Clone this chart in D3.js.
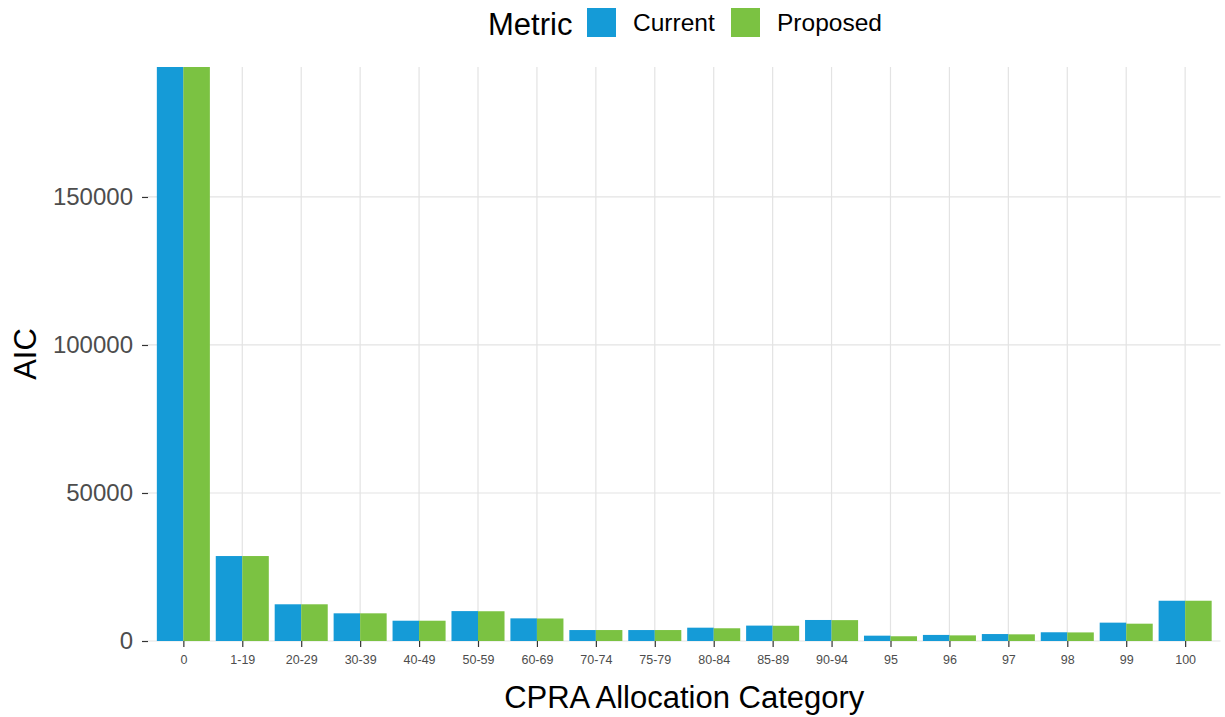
<!DOCTYPE html>
<html>
<head>
<meta charset="utf-8">
<script src="https://cdn.jsdelivr.net/npm/d3@7"></script>
<style>
  html, body { margin: 0; padding: 0; background: #fff; }
  svg { display: block; font-family: "Liberation Sans", Arial, Helvetica, sans-serif; }
</style>
</head>
<body>
<svg id="chart" width="1225" height="717"></svg>
<script>
const categories = ["0","1-19","20-29","30-39","40-49","50-59","60-69","70-74","75-79","80-84","85-89","90-94","95","96","97","98","99","100"];
const seriesNames = ["Current","Proposed"];
const currentValues  = [193900, 28700, 12400, 9350, 6850, 10100, 7650, 3700, 3700, 4500, 5200, 7100, 1800, 2050, 2350, 2950, 6200, 13600];
const proposedValues = [193900, 28700, 12400, 9350, 6850, 10050, 7600, 3700, 3700, 4300, 5150, 7050, 1600, 1900, 2250, 2900, 5850, 13600];
const yTicks = [0, 50000, 100000, 150000];
const colors = ["#159bd7", "#7bc242"];

const svg = d3.select("#chart");
const m = { left: 148, right: 1220.5, top: 67, bottom: 641 };

// emulate ggplot discrete expansion: 0.6 units each side
const step = (m.right - m.left) / (categories.length - 1 + 1.2);
const xc = d3.scalePoint().domain(categories).range([m.left + 0.6 * step, m.right - 0.6 * step]);
const barW = 0.9 * step;
const xs = d3.scaleBand().domain(seriesNames).range([0, barW]);

const yMax = d3.max(currentValues.concat(proposedValues));
const y = d3.scaleLinear().domain([0, yMax]).range([m.bottom, m.top]);

// gridlines
const grid = svg.append("g");
grid.selectAll("line.h").data(yTicks).join("line")
  .attr("x1", m.left).attr("x2", m.right)
  .attr("y1", d => y(d)).attr("y2", d => y(d))
  .attr("stroke", "#e3e3e3").attr("stroke-width", 1.2);
grid.selectAll("line.v").data(categories).join("line")
  .attr("x1", d => xc(d)).attr("x2", d => xc(d))
  .attr("y1", m.top).attr("y2", m.bottom)
  .attr("stroke", "#e3e3e3").attr("stroke-width", 1.2);

// bars
const data = categories.map((c, i) => ({ cat: c, vals: [currentValues[i], proposedValues[i]] }));
const groups = svg.append("g").selectAll("g").data(data).join("g")
  .attr("transform", d => `translate(${xc(d.cat) - barW / 2},0)`);
groups.selectAll("rect").data(d => d.vals.map((v, j) => ({ s: seriesNames[j], v, j }))).join("rect")
  .attr("x", d => xs(d.s)).attr("width", xs.bandwidth())
  .attr("y", d => y(d.v)).attr("height", d => y(0) - y(d.v))
  .attr("fill", d => colors[d.j]);

// y axis
const yAxis = d3.axisLeft(y).tickValues(yTicks).tickSize(6).tickPadding(9).tickFormat(d3.format("d"));
const gy = svg.append("g").attr("transform", `translate(${m.left},0)`).call(yAxis);
gy.select(".domain").remove();
gy.selectAll(".tick line").attr("stroke", "#333").attr("stroke-width", 1.2);
gy.selectAll(".tick text").attr("fill", "#4d4d4d").style("font-size", "24px");

// x axis
const xAxis = d3.axisBottom(xc).tickSize(6).tickPadding(8);
const gx = svg.append("g").attr("transform", `translate(0,${m.bottom})`).call(xAxis);
gx.select(".domain").remove();
gx.selectAll(".tick line").attr("stroke", "#333").attr("stroke-width", 1.2);
gx.selectAll(".tick text").attr("fill", "#4d4d4d").style("font-size", "12.5px");

// axis titles
svg.append("text").attr("x", (m.left + m.right) / 2).attr("y", 708)
  .attr("text-anchor", "middle").style("font-size", "31px").attr("fill", "#000")
  .text("CPRA Allocation Category");
svg.append("text").attr("transform", `translate(36,${(m.top + m.bottom) / 2}) rotate(-90)`)
  .attr("text-anchor", "middle").style("font-size", "31px").attr("fill", "#000")
  .text("AIC");

// legend
const lg = svg.append("g");
lg.append("text").attr("x", 488).attr("y", 35).style("font-size", "31px").attr("fill", "#000").text("Metric");
const legendX = [587, 731];
seriesNames.forEach((s, i) => {
  lg.append("rect").attr("x", legendX[i]).attr("y", 8).attr("width", 29).attr("height", 29).attr("fill", colors[i]);
  lg.append("text").attr("x", legendX[i] + 46).attr("y", 31).style("font-size", "24.5px").attr("fill", "#000").text(s);
});
</script>
</body>
</html>
